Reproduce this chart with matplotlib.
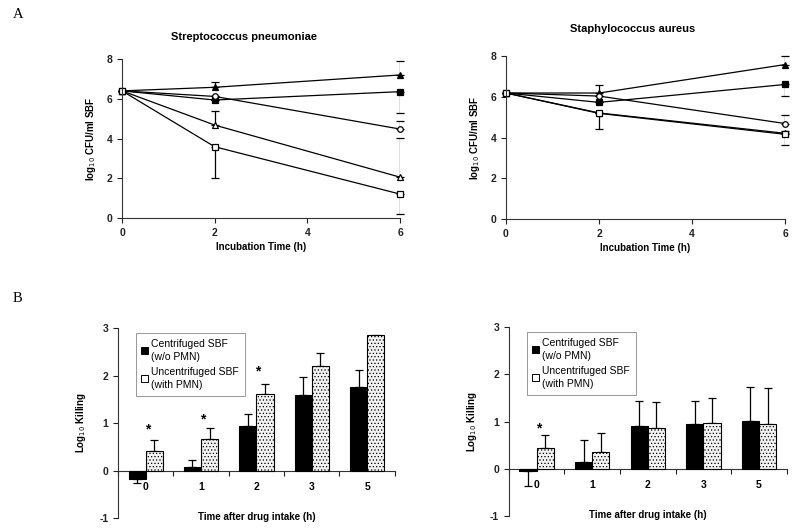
import numpy as np
import matplotlib
matplotlib.use('Agg')
import matplotlib.pyplot as plt
from matplotlib.patches import Patch

plt.rcParams['font.family'] = ['Liberation Sans', 'DejaVu Sans']
plt.rcParams['hatch.color'] = '#b0b0b0'
plt.rcParams['hatch.linewidth'] = 0.5
plt.rcParams['axes.unicode_minus'] = False

# time-kill data (log10 CFU/ml SBF)
hours = [0, 2, 6]

sp_tri_f = [6.4, 6.58, 7.2]
sp_tri_f_hi = [0, 0.25, 0.68]
sp_sq_f = [6.4, 5.94, 6.36]
sp_sq_f_lo = [0, 0, 1.08]
sp_circ = [6.4, 6.12, 4.48]
sp_circ_hi = [0, 0, 0.4]
sp_tri_o = [6.4, 4.68, 2.06]
sp_tri_o_hi = [0, 0.7, 1.98]
sp_sq_o = [6.4, 3.59, 1.21]
sp_sq_o_lo = [0, 1.56, 1.0]

sa_tri_f = [6.2, 6.2, 7.6]
sa_tri_f_hi = [0, 0.37, 0.44]
sa_sq_f = [6.2, 5.74, 6.62]
sa_sq_f_lo = [0, 0, 0.55]
sa_circ = [6.2, 6.05, 4.7]
sa_circ_hi = [0, 0, 0.4]
sa_tri_o = [6.2, 5.22, 4.22]
sa_tri_o_hi = [0, 0, 0.1]
sa_sq_o = [6.2, 5.2, 4.17]
sa_sq_o_lo = [0, 0.78, 0.54]

# log10 killing data
cats = ['0', '1', '2', '3', '5']
sp_centri = [-0.18, 0.07, 0.94, 1.60, 1.76]
sp_centri_lo = [0.08, 0, 0, 0, 0]
sp_centri_hi = [0, 0.16, 0.26, 0.38, 0.36]
sp_uncentri = [0.41, 0.66, 1.61, 2.20, 2.85]
sp_uncentri_lo = [0, 0, 0, 0, 0.71]
sp_uncentri_hi = [0.24, 0.24, 0.21, 0.27, 0]
sp_stars = [0, 1, 2]
sp_star_y = [0.86, 1.07, 2.09]

sa_centri = [-0.05, 0.15, 0.91, 0.95, 1.02]
sa_centri_lo = [0.32, 0, 0, 0, 0]
sa_centri_hi = [0, 0.46, 0.53, 0.49, 0.71]
sa_uncentri = [0.45, 0.36, 0.87, 0.98, 0.94]
sa_uncentri_lo = [0, 0, 0, 0, 0]
sa_uncentri_hi = [0.26, 0.39, 0.55, 0.51, 0.78]
sa_stars = [0]
sa_star_y = [0.86]

fig = plt.figure(figsize=(8, 5.32), dpi=100)

def style_axes(ax):
    for s in ['top', 'right']:
        ax.spines[s].set_visible(False)
    for s in ['left', 'bottom']:
        ax.spines[s].set_linewidth(0.8)
        ax.spines[s].set_color('#333333')
    ax.tick_params(direction='out', length=3.5, width=0.8, labelsize=7.5, colors='#222222')
    for lab in ax.get_xticklabels() + ax.get_yticklabels():
        lab.set_fontweight('bold')

def kill_panel(ax, series):
    for y, lo, hi, mk, fc in series:
        ax.errorbar(hours, y, yerr=[lo, hi], color='black', lw=0.9, marker=mk,
                    markersize=4, markerfacecolor=fc, markeredgecolor='black',
                    markeredgewidth=0.9, ecolor='black', elinewidth=0.9, capsize=3, capthick=0.9)
    ax.set_xlim(0, 6)
    ax.set_ylim(0, 8)
    ax.set_xticks([0, 2, 4, 6])
    ax.set_yticks([0, 2, 4, 6, 8])
    ax.set_xlabel('Incubation Time (h)', fontsize=7, fontweight='bold', labelpad=3)
    ax.set_ylabel('log$_{10}$ CFU/ml SBF', fontsize=7, fontweight='bold', labelpad=6)
    for a in ax.lines:
        a.set_clip_on(False)
    style_axes(ax)

ax1 = fig.add_axes([0.1525, 0.590, 0.3475, 0.299])
kill_panel(ax1, [
    (sp_tri_f, [0]*3, sp_tri_f_hi, '^', 'black'),
    (sp_sq_f, sp_sq_f_lo, [0]*3, 's', 'black'),
    (sp_circ, [0]*3, sp_circ_hi, 'o', 'white'),
    (sp_tri_o, [0]*3, sp_tri_o_hi, '^', 'white'),
    (sp_sq_o, sp_sq_o_lo, [0]*3, 's', 'white'),
])
fig.text(244 / 800, 1 - 37 / 532, 'Streptococcus pneumoniae', fontsize=8, fontweight='bold',
         ha='center', va='center')

ax2 = fig.add_axes([0.6325, 0.588, 0.349, 0.306])
kill_panel(ax2, [
    (sa_tri_f, [0]*3, sa_tri_f_hi, '^', 'black'),
    (sa_sq_f, sa_sq_f_lo, [0]*3, 's', 'black'),
    (sa_circ, [0]*3, sa_circ_hi, 'o', 'white'),
    (sa_tri_o, [0]*3, sa_tri_o_hi, '^', 'white'),
    (sa_sq_o, sa_sq_o_lo, [0]*3, 's', 'white'),
])
fig.text(633 / 800, 1 - 29 / 532, 'Staphylococcus aureus', fontsize=8, fontweight='bold',
         ha='center', va='center')

def bar_panel(ax, c, c_lo, c_hi, u, u_lo, u_hi, stars, star_y):
    x = np.arange(len(cats))
    w = 0.31
    ax.bar(x - w, c, w, align='edge', color='black', edgecolor='black', lw=0.8, zorder=3)
    ax.bar(x, u, w, align='edge', color='#f2f2f2', edgecolor='black', lw=0.8,
           hatch='.....', zorder=3)
    ax.errorbar(x - w / 2, c, yerr=[c_lo, c_hi], fmt='none', ecolor='black',
                elinewidth=0.9, capsize=3, capthick=0.9, zorder=2)
    ax.errorbar(x + w / 2, u, yerr=[u_lo, u_hi], fmt='none', ecolor='black',
                elinewidth=0.9, capsize=3, capthick=0.9, zorder=2)
    for i, yy in zip(stars, star_y):
        ax.text(x[i] + 0.03, yy, '*', ha='center', va='center', fontsize=10, fontweight='bold')
    ax.set_xlim(-0.5, len(cats) - 0.5)
    ax.set_ylim(-1, 3)
    ax.set_yticks([-1, 0, 1, 2, 3])
    ax.spines['bottom'].set_position(('data', 0))
    ax.set_xticks(np.arange(len(cats) + 1) - 0.5)
    ax.set_xticklabels([])
    ax.set_xticks(x, minor=True)
    ax.set_xticklabels(cats, minor=True)
    style_axes(ax)
    ax.tick_params(axis='x', which='minor', length=0, pad=8, labelsize=7.5)
    for lab in ax.get_xticklabels(minor=True):
        lab.set_fontweight('bold')
    ax.text(2, -0.97, 'Time after drug intake (h)', ha='center', va='center',
            fontsize=7, fontweight='bold')
    ax.set_ylabel('Log$_{10}$ Killing', fontsize=7, fontweight='bold', labelpad=8)
    handles = [Patch(facecolor='black', edgecolor='black', lw=0.7),
               Patch(facecolor='white', edgecolor='black', lw=0.7)]
    labels = ['Centrifuged SBF\n(w/o PMN)', 'Uncentrifuged SBF\n(with PMN)']
    leg = ax.legend(handles, labels, loc='upper left', bbox_to_anchor=(0.045, 1.0), fontsize=7.5,
                    fancybox=False, framealpha=1, edgecolor='#888888',
                    handlelength=0.65, handleheight=0.65, handletextpad=0.3,
                    labelspacing=0.5, borderpad=0.55)
    for t in leg.get_texts():
        t.set_linespacing(1.35)
    leg.get_frame().set_linewidth(0.6)

ax3 = fig.add_axes([0.1475, 0.0263, 0.346, 0.357])
bar_panel(ax3, sp_centri, sp_centri_lo, sp_centri_hi, sp_uncentri, sp_uncentri_lo,
          sp_uncentri_hi, sp_stars, sp_star_y)

ax4 = fig.add_axes([0.636, 0.030, 0.3475, 0.355])
bar_panel(ax4, sa_centri, sa_centri_lo, sa_centri_hi, sa_uncentri, sa_uncentri_lo,
          sa_uncentri_hi, sa_stars, sa_star_y)

fig.text(13 / 800, 1 - 14 / 532, 'A', fontsize=10.5, family='Liberation Serif', va='center')
fig.text(13 / 800, 1 - 299 / 532, 'B', fontsize=10.5, family='Liberation Serif', va='center')

fig.savefig('out.png', dpi=100, facecolor='white')
